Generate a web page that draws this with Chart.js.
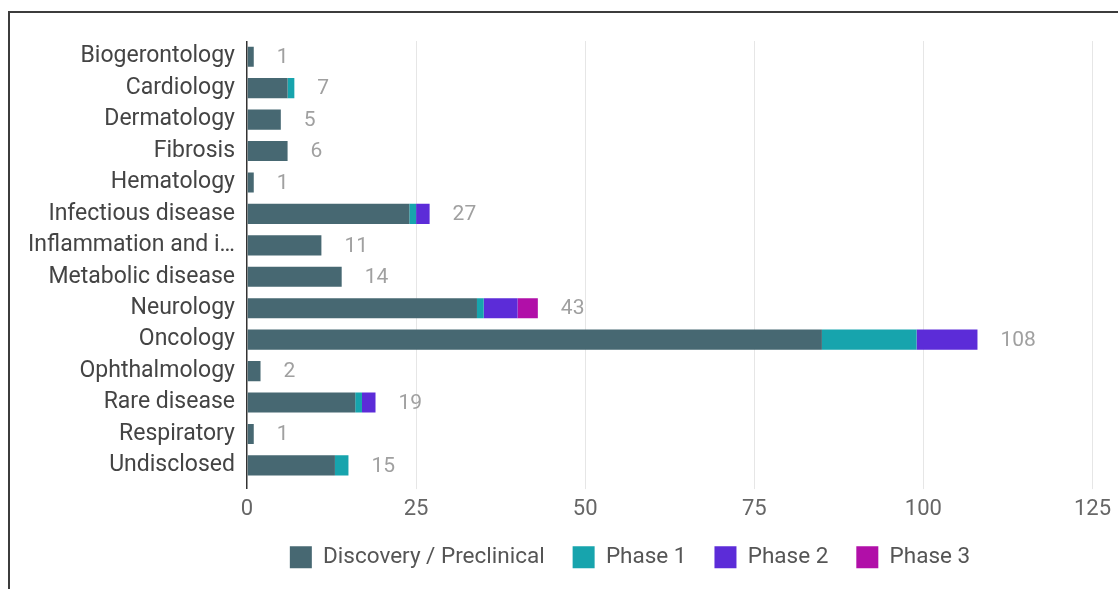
<!DOCTYPE html>
<html>
<head>
<meta charset="utf-8">
<script src="https://cdn.jsdelivr.net/npm/chart.js@4.4.1/dist/chart.umd.min.js"></script>
<style>
  html, body { margin: 0; padding: 0; background: #fff; }
  #frame { position: absolute; left: 8px; top: 11px; width: 1110px; height: 578px;
           border-top: 2px solid #3c3c3c; border-left: 2px solid #3c3c3c; }
  #wrap { position: absolute; left: 0; top: 0; width: 1118px; height: 589px; }
</style>
</head>
<body>
<div id="frame"></div>
<div id="wrap"><canvas id="chart"></canvas></div>
<script>
const categories = ['Biogerontology', 'Cardiology', 'Dermatology', 'Fibrosis', 'Hematology',
    'Infectious disease', 'Inflammation and i\u2026', 'Metabolic disease', 'Neurology', 'Oncology',
    'Ophthalmology', 'Rare disease', 'Respiratory', 'Undisclosed'];
const discovery = [1, 6, 5, 6, 1, 24, 11, 14, 34, 85, 2, 16, 1, 13];
const phase1    = [0, 1, 0, 0, 0, 1, 0, 0, 1, 14, 0, 1, 0, 2];
const phase2    = [0, 0, 0, 0, 0, 2, 0, 0, 5, 9, 0, 2, 0, 0];
const phase3    = [0, 0, 0, 0, 0, 0, 0, 0, 3, 0, 0, 0, 0, 0];
const xTicks = [0, 25, 50, 75, 100, 125];

const totals = categories.map((_, i) => discovery[i] + phase1[i] + phase2[i] + phase3[i]);

// total value drawn to the right of each stacked bar
const totalLabels = {
    id: 'totalLabels',
    afterDatasetsDraw(chart) {
        const { ctx, scales: { x, y } } = chart;
        ctx.save();
        ctx.font = '21px Roboto';
        ctx.fillStyle = '#a0a0a0';
        ctx.textBaseline = 'middle';
        ctx.textAlign = 'left';
        totals.forEach((t, i) => {
            ctx.fillText(String(t), x.getPixelForValue(t) + 23, y.getPixelForValue(i) + 1);
        });
        ctx.restore();
    }
};

// legend sits a bit right of the canvas centre, just under the axis
const legendPlace = {
    id: 'legendPlace',
    afterLayout(chart) {
        const lg = chart.legend;
        const h = lg.bottom - lg.top;
        lg.left = 152;
        lg.top = 518;
        lg.bottom = lg.top + h;
    }
};

Chart.defaults.font.family = 'Roboto';

new Chart(document.getElementById('chart'), {
    type: 'bar',
    data: {
        labels: categories,
        datasets: [
            { label: 'Discovery / Preclinical', data: discovery, backgroundColor: '#476872' },
            { label: 'Phase 1', data: phase1, backgroundColor: '#17a4ad' },
            { label: 'Phase 2', data: phase2, backgroundColor: '#5c2cd8' },
            { label: 'Phase 3', data: phase3, backgroundColor: '#b10fa8' }
        ]
    },
    options: {
        indexAxis: 'y',
        responsive: true,
        maintainAspectRatio: false,
        animation: false,
        layout: { padding: { left: 8, right: 10, top: 41, bottom: 0 } },
        datasets: { bar: { categoryPercentage: 0.8, barPercentage: 0.8 } },
        plugins: {
            legend: {
                position: 'bottom',
                labels: {
                    boxWidth: 22,
                    boxHeight: 22,
                    padding: 28,
                    color: '#555',
                    font: { size: 22.5 }
                }
            },
            tooltip: { enabled: false }
        },
        scales: {
            x: {
                stacked: true,
                min: 0,
                max: 125,
                afterBuildTicks: (scale) => { scale.ticks = xTicks.map(v => ({ value: v })); },
                afterFit: (scale) => { scale.height -= 1; },
                grid: {
                    color: (c) => c.tick && c.tick.value === 0 ? '#333' : '#e6e6e6',
                    lineWidth: (c) => c.tick && c.tick.value === 0 ? 1.5 : 1,
                    tickLength: 8
                },
                border: { display: false },
                ticks: { color: '#666', font: { size: 22 }, padding: 7 }
            },
            y: {
                stacked: true,
                afterFit: (scale) => { scale.width = 239; },
                grid: { display: false },
                border: { display: false },
                ticks: { color: '#444', font: { size: 23 }, padding: 4, autoSkip: false }
            }
        }
    },
    plugins: [totalLabels, legendPlace]
});
</script>
</body>
</html>
